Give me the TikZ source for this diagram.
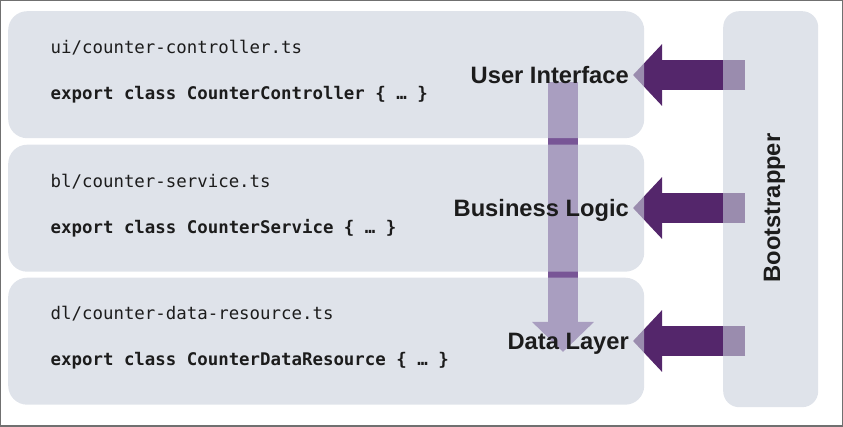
\documentclass[tikz,border=0pt]{standalone}
\usepackage{fontspec}
\usetikzlibrary{arrows.meta}
\newfontfamily\codefont{DejaVu Sans Mono}
\newfontfamily\labelfont{Liberation Sans}
\definecolor{boxfill}{RGB}{202,208,220}
\definecolor{darkpurple}{RGB}{84,38,107}
\definecolor{midpurple}{RGB}{120,85,150}
\definecolor{framegray}{RGB}{112,112,112}
\definecolor{textdark}{RGB}{28,28,28}
\tikzset{
  layerbox/.style={fill=boxfill, fill opacity=0.6, draw=none, rounded corners=19pt,
    inner sep=0pt, anchor=north west, minimum width=636pt, minimum height=127pt},
  bootbox/.style={fill=boxfill, fill opacity=0.6, draw=none, rounded corners=16pt,
    inner sep=0pt, anchor=north west, minimum width=95pt, minimum height=396pt},
  injectarrow/.style={draw=darkpurple, line width=30pt,
    -{Triangle[length=29pt,width=60pt]}},
  flowarrow/.style={draw=midpurple, line width=30pt,
    -{Triangle[length=30pt,width=60pt]}},
  filetext/.style={font=\codefont\fontsize{17.4}{20}\selectfont, text=textdark,
    inner sep=0pt, anchor=base west},
  classtext/.style={font=\codefont\bfseries\fontsize{17.4}{20}\selectfont, text=textdark,
    inner sep=0pt, anchor=base west},
  layerlabel/.style={font=\labelfont\bfseries\fontsize{23.7}{28}\selectfont, text=textdark,
    inner sep=0pt, anchor=base east},
}
\begin{document}
\begin{tikzpicture}[x=1pt,y=-1pt]
\useasboundingbox (0,0) rectangle (843,427);
\draw[framegray, line width=1.2pt] (0.6,0.6) rectangle (842.2,426);
% connector end points
\coordinate (bootUI) at (745,75);
\coordinate (bootBL) at (745,208);
\coordinate (bootDL) at (745,341);
\coordinate (tipUI) at (633,75);
\coordinate (tipBL) at (633,208);
\coordinate (tipDL) at (633,341);
\coordinate (flowtop) at (563,82);
\coordinate (flowtip) at (563,352);
% arrows (under the translucent boxes)
\draw[flowarrow] (flowtop) -- (flowtip);
\draw[injectarrow] (bootUI) -- (tipUI);
\draw[injectarrow] (bootBL) -- (tipBL);
\draw[injectarrow] (bootDL) -- (tipDL);
% boxes
\node[layerbox] (uibox) at (8,11) {};
\node[layerbox] (blbox) at (8,144.5) {};
\node[layerbox] (dlbox) at (8,277.5) {};
\node[bootbox] (bootbox) at (723,11) {};
% code texts
\node[filetext] (uifile) at (50.5,54) {ui/counter-controller.ts};
\node[classtext] (uiclass) at (50.5,100) {export class CounterController \{ … \}};
\node[filetext] (blfile) at (50.5,188) {bl/counter-service.ts};
\node[classtext] (blclass) at (50.5,234) {export class CounterService \{ … \}};
\node[filetext] (dlfile) at (50.5,320) {dl/counter-data-resource.ts};
\node[classtext] (dlclass) at (50.5,366) {export class CounterDataResource \{ … \}};
% layer labels
\node[layerlabel] (uilabel) at (629,84) {User Interface};
\node[layerlabel] (bllabel) at (629,217) {Business Logic};
\node[layerlabel] (dllabel) at (629,349) {Data Layer};
\node[font=\labelfont\bfseries\fontsize{23.7}{28}\selectfont, text=textdark,
  inner sep=0pt, anchor=base, rotate=90] (bootlabel) at (780,208) {Bootstrapper};
\end{tikzpicture}
\end{document}
